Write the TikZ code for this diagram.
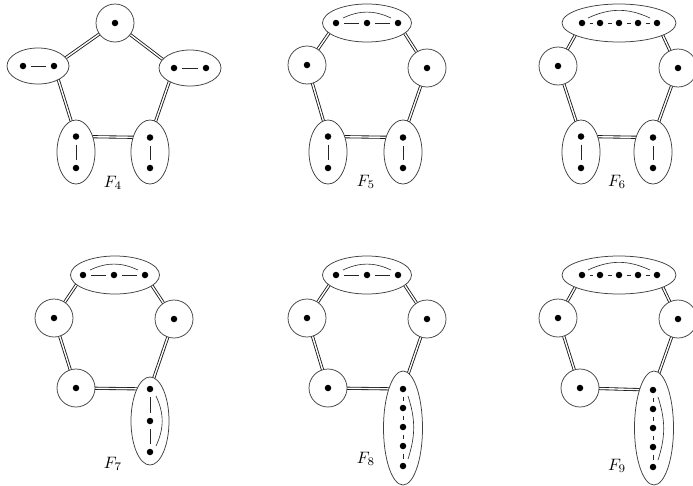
\documentclass[tikz,border=0pt]{standalone}
\usetikzlibrary{shapes.geometric}
\pgfdeclarelayer{bg}
\pgfsetlayers{bg,main}
\tikzset{
  dotn/.style={circle,fill=black,inner sep=0pt,minimum size=6.5pt},
  grp/.style={ellipse,draw=black!75,fill=white,line width=0.75pt,inner sep=0pt},
  cgrp/.style={circle,draw=black!75,fill=white,line width=0.75pt,inner sep=0pt,minimum size=38pt},
  hgrp/.style={grp,minimum width=62pt,minimum height=36pt},
  vgrp/.style={grp,minimum width=38pt,minimum height=64pt},
  tgrp/.style={grp,minimum width=89pt,minimum height=38pt},
  wgrp/.style={grp,minimum width=114pt,minimum height=38pt},
  v3grp/.style={grp,minimum width=38pt,minimum height=88pt},
  v5grp/.style={grp,minimum width=39pt,minimum height=114pt},
  edge/.style={double=white,draw=black!90,double distance=1.4pt,line width=0.85pt},
  sline/.style={draw=black!85,line width=0.65pt,shorten <=8pt,shorten >=8pt},
  dline/.style={draw=black!85,line width=0.65pt,shorten <=7.5pt,shorten >=7.5pt},
  arcl/.style={draw=black!80,line width=0.65pt},
  lab/.style={scale=1.65,inner sep=0pt}
}
\begin{document}
\begin{tikzpicture}[x=1pt,y=-1pt]
\useasboundingbox (0,0) rectangle (693,485);
% ---------------- F4 ----------------
\node[cgrp] (a-T) at (115,23) {};
\node[hgrp] (a-L) at (38,66) {};
\node[hgrp] (a-R) at (190,68) {};
\node[vgrp] (a-BL) at (76,152) {};
\node[vgrp] (a-BR) at (150,152) {};
\node[dotn] (a-t) at (115,23) {};
\node[dotn] (a-l1) at (23,66) {};
\node[dotn] (a-l2) at (54,66) {};
\node[dotn] (a-r1) at (174,68) {};
\node[dotn] (a-r2) at (206,68) {};
\node[dotn] (a-b1) at (76,136.5) {};
\node[dotn] (a-b2) at (76,168) {};
\node[dotn] (a-c1) at (150,137.5) {};
\node[dotn] (a-c2) at (150,168) {};
\draw[sline] (a-l1.center) -- (a-l2.center);
\draw[sline] (a-r1.center) -- (a-r2.center);
\draw[sline] (a-b1.center) -- (a-b2.center);
\draw[sline] (a-c1.center) -- (a-c2.center);
\node[lab] (a-lab) at (113,183) {$F_4$};
\begin{pgfonlayer}{bg}
\draw[edge] (a-t) -- (a-l2);
\draw[edge] (a-t) -- (a-r1);
\draw[edge] (a-l2) -- (a-b1);
\draw[edge] (a-r1) -- (a-c1);
\draw[edge] (a-b1) -- (a-c1);
\end{pgfonlayer}
% ---------------- F5 ----------------
\node[tgrp] (b-T) at (367,23) {};
\node[cgrp] (b-L) at (307,65) {};
\node[cgrp] (b-R) at (427,68) {};
\node[vgrp] (b-BL) at (328,152) {};
\node[vgrp] (b-BR) at (403,152) {};
\node[dotn] (b-t1) at (336,23) {};
\node[dotn] (b-t2) at (367,23) {};
\node[dotn] (b-t3) at (398,23) {};
\node[dotn] (b-l) at (307,65) {};
\node[dotn] (b-r) at (427,68) {};
\node[dotn] (b-b1) at (328,136.5) {};
\node[dotn] (b-b2) at (328,168) {};
\node[dotn] (b-c1) at (403,137.5) {};
\node[dotn] (b-c2) at (403,168) {};
\draw[sline] (b-t1.center) -- (b-t2.center);
\draw[sline] (b-t2.center) -- (b-t3.center);
\draw[arcl] ([shift={(7,-5)}]b-t1.center) to[bend left=25] ([shift={(-7,-5)}]b-t3.center);
\draw[sline] (b-b1.center) -- (b-b2.center);
\draw[sline] (b-c1.center) -- (b-c2.center);
\node[lab] (b-lab) at (366,182) {$F_5$};
\begin{pgfonlayer}{bg}
\draw[edge] (b-t1) -- (b-l);
\draw[edge] (b-t3) -- (b-r);
\draw[edge] (b-l) -- (b-b1);
\draw[edge] (b-r) -- (b-c1);
\draw[edge] (b-b1) -- (b-c1);
\end{pgfonlayer}
% ---------------- F6 ----------------
\node[wgrp] (c-T) at (619,23) {};
\node[cgrp] (c-L) at (558,66) {};
\node[cgrp] (c-R) at (678,68) {};
\node[vgrp] (c-BL) at (581,152) {};
\node[vgrp] (c-BR) at (653,152) {};
\node[dotn] (c-t1) at (582,23) {};
\node[dotn] (c-t2) at (600,23) {};
\node[dotn] (c-t3) at (619,23) {};
\node[dotn] (c-t4) at (638,23) {};
\node[dotn] (c-t5) at (657,23) {};
\node[dotn] (c-l) at (558,66) {};
\node[dotn] (c-r) at (678,68) {};
\node[dotn] (c-b1) at (581,136.5) {};
\node[dotn] (c-b2) at (581,168) {};
\node[dotn] (c-c1) at (653,137.5) {};
\node[dotn] (c-c2) at (653,168) {};
\draw[dline] (c-t1.center) -- (c-t2.center);
\draw[dline] (c-t2.center) -- (c-t3.center);
\draw[dline] (c-t3.center) -- (c-t4.center);
\draw[dline] (c-t4.center) -- (c-t5.center);
\draw[arcl] ([shift={(6,-5)}]c-t1.center) to[bend left=25] ([shift={(-7,-5)}]c-t5.center);
\draw[sline] (c-b1.center) -- (c-b2.center);
\draw[sline] (c-c1.center) -- (c-c2.center);
\node[lab] (c-lab) at (617,182) {$F_6$};
\begin{pgfonlayer}{bg}
\draw[edge] (c-t1) -- (c-l);
\draw[edge] (c-t5) -- (c-r);
\draw[edge] (c-l) -- (c-b1);
\draw[edge] (c-r) -- (c-c1);
\draw[edge] (c-b1) -- (c-c1);
\end{pgfonlayer}
% ---------------- F7 ----------------
\node[tgrp] (d-T) at (115,275) {};
\node[cgrp] (d-L) at (54,318) {};
\node[cgrp] (d-R) at (174,319) {};
\node[cgrp] (d-BL) at (76,388) {};
\node[v3grp] (d-BR) at (150,421) {};
\node[dotn] (d-t1) at (83,275) {};
\node[dotn] (d-t2) at (114,275) {};
\node[dotn] (d-t3) at (145,275) {};
\node[dotn] (d-l) at (54,318) {};
\node[dotn] (d-r) at (174,319) {};
\node[dotn] (d-b) at (76,388) {};
\node[dotn] (d-c1) at (150,389) {};
\node[dotn] (d-c2) at (150,421) {};
\node[dotn] (d-c3) at (150,452) {};
\draw[sline] (d-t1.center) -- (d-t2.center);
\draw[sline] (d-t2.center) -- (d-t3.center);
\draw[arcl] ([shift={(7,-5)}]d-t1.center) to[bend left=25] ([shift={(-7,-5)}]d-t3.center);
\draw[sline] (d-c1.center) -- (d-c2.center);
\draw[sline] (d-c2.center) -- (d-c3.center);
\draw[arcl] ([shift={(6,7)}]d-c1.center) to[bend left=25] ([shift={(6,-6)}]d-c3.center);
\node[lab] (d-lab) at (113,464) {$F_7$};
\begin{pgfonlayer}{bg}
\draw[edge] (d-t1) -- (d-l);
\draw[edge] (d-t3) -- (d-r);
\draw[edge] (d-l) -- (d-b);
\draw[edge] (d-r) -- (d-c1);
\draw[edge] (d-b) -- (d-c1);
\end{pgfonlayer}
% ---------------- F8 ----------------
\node[tgrp] (e-T) at (367,275) {};
\node[cgrp] (e-L) at (307,318) {};
\node[cgrp] (e-R) at (427,319) {};
\node[cgrp] (e-BL) at (328,388) {};
\node[v5grp] (e-BR) at (403,428) {};
\node[dotn] (e-t1) at (336,275) {};
\node[dotn] (e-t2) at (367,275) {};
\node[dotn] (e-t3) at (398,275) {};
\node[dotn] (e-l) at (307,318) {};
\node[dotn] (e-r) at (427,319) {};
\node[dotn] (e-b) at (328,388) {};
\node[dotn] (e-c1) at (403,389) {};
\node[dotn] (e-c2) at (403,408) {};
\node[dotn] (e-c3) at (403,427) {};
\node[dotn] (e-c4) at (403,446) {};
\node[dotn] (e-c5) at (403,466) {};
\draw[sline] (e-t1.center) -- (e-t2.center);
\draw[sline] (e-t2.center) -- (e-t3.center);
\draw[arcl] ([shift={(7,-5)}]e-t1.center) to[bend left=25] ([shift={(-7,-5)}]e-t3.center);
\draw[dline] (e-c1.center) -- (e-c2.center);
\draw[dline] (e-c2.center) -- (e-c3.center);
\draw[dline] (e-c3.center) -- (e-c4.center);
\draw[dline] (e-c4.center) -- (e-c5.center);
\draw[arcl] ([shift={(5,7)}]e-c1.center) to[bend left=18] ([shift={(5,-7)}]e-c5.center);
\node[lab] (e-lab) at (366,459) {$F_8$};
\begin{pgfonlayer}{bg}
\draw[edge] (e-t1) -- (e-l);
\draw[edge] (e-t3) -- (e-r);
\draw[edge] (e-l) -- (e-b);
\draw[edge] (e-r) -- (e-c1);
\draw[edge] (e-b) -- (e-c1);
\end{pgfonlayer}
% ---------------- F9 ----------------
\node[wgrp] (f-T) at (619,275) {};
\node[cgrp] (f-L) at (558,318) {};
\node[cgrp] (f-R) at (678,319) {};
\node[cgrp] (f-BL) at (580,388) {};
\node[v5grp] (f-BR) at (654,428) {};
\node[dotn] (f-t1) at (582,275) {};
\node[dotn] (f-t2) at (600,275) {};
\node[dotn] (f-t3) at (619,275) {};
\node[dotn] (f-t4) at (638,275) {};
\node[dotn] (f-t5) at (657,275) {};
\node[dotn] (f-l) at (558,318) {};
\node[dotn] (f-r) at (678,319) {};
\node[dotn] (f-b) at (580,388) {};
\node[dotn] (f-c1) at (653,390) {};
\node[dotn] (f-c2) at (653,409) {};
\node[dotn] (f-c3) at (653,428) {};
\node[dotn] (f-c4) at (653,447) {};
\node[dotn] (f-c5) at (653,467) {};
\draw[dline] (f-t1.center) -- (f-t2.center);
\draw[dline] (f-t2.center) -- (f-t3.center);
\draw[dline] (f-t3.center) -- (f-t4.center);
\draw[dline] (f-t4.center) -- (f-t5.center);
\draw[arcl] ([shift={(6,-5)}]f-t1.center) to[bend left=25] ([shift={(-7,-5)}]f-t5.center);
\draw[dline] (f-c1.center) -- (f-c2.center);
\draw[dline] (f-c2.center) -- (f-c3.center);
\draw[dline] (f-c3.center) -- (f-c4.center);
\draw[dline] (f-c4.center) -- (f-c5.center);
\draw[arcl] ([shift={(5,7)}]f-c1.center) to[bend left=18] ([shift={(5,-7)}]f-c5.center);
\node[lab] (f-lab) at (617,466) {$F_9$};
\begin{pgfonlayer}{bg}
\draw[edge] (f-t1) -- (f-l);
\draw[edge] (f-t5) -- (f-r);
\draw[edge] (f-l) -- (f-b);
\draw[edge] (f-r) -- (f-c1);
\draw[edge] (f-b) -- (f-c1);
\end{pgfonlayer}
\end{tikzpicture}
\end{document}
